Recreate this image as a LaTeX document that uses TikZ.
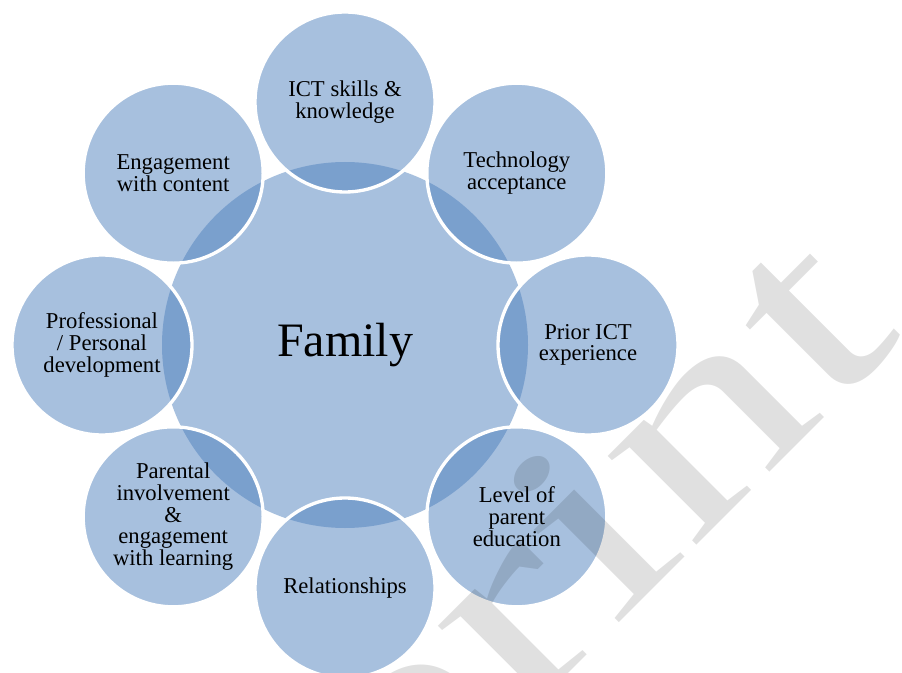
\documentclass[tikz,border=0pt]{standalone}
\usepackage{fontspec}
\setmainfont{Liberation Serif}
\definecolor{accent}{HTML}{4F81BD}
\tikzset{
  hub/.style={circle, fill=accent, fill opacity=0.5, text opacity=1,
    minimum size=274.5pt, inner sep=0pt, font=\fontsize{36}{40}\selectfont},
  spoke/.style={circle, draw=white, line width=2.5pt, fill=accent,
    fill opacity=0.5, text opacity=1, minimum size=135pt, inner sep=0pt,
    align=center, font=\fontsize{17}{16.3}\selectfont},
  stamp/.style={text=black, text opacity=0.12, inner sep=0pt,
    font=\fontsize{205}{205}\selectfont}
}
\begin{document}
\begin{tikzpicture}[x=0.75pt, y=-0.75pt, line join=round, line cap=round]
	\useasboundingbox (0,0) rectangle (902,673);
	\clip (0,0) rectangle (902,673);
	\node[hub] (family) at (345,345) {Family};
	% eight factors round the family
	\foreach \ang/\txt [count=\i] in {-90/{ICT skills \&\\knowledge}, -45/{Technology\\acceptance},
		0/{Prior ICT\\experience}, 45/{Level of\\parent\\education}, 90/{Relationships},
		135/{Parental\\involvement\\\&\\engagement\\with learning},
		180/{Professional\\/ Personal\\development}, 225/{Engagement\\with content}}
		\node[spoke] (f\i) at ([shift={(\ang:243)}]family.center) {\txt};
	%\draw (family) -- (f1);
	\node[stamp, rotate=45, xscale=1.43, anchor=base east] (wm) at (906,336) {Preprint};
\end{tikzpicture}
\end{document}
